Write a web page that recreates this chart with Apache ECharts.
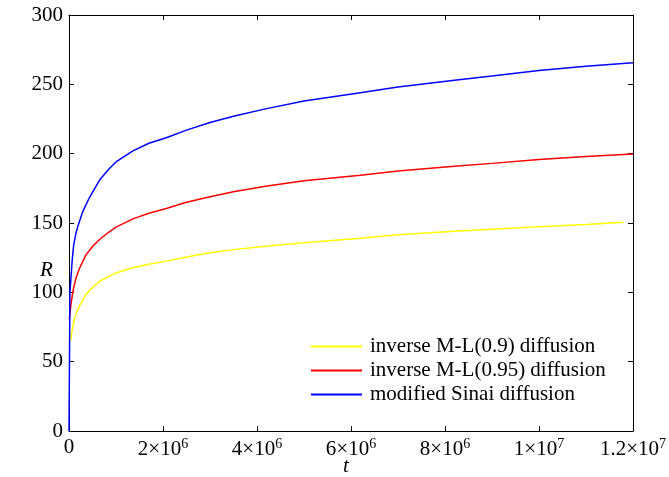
<!DOCTYPE html>
<html>
<head>
<meta charset="utf-8">
<script src="https://cdn.jsdelivr.net/npm/echarts@6/dist/echarts.min.js"></script>
<style>
  html, body { margin: 0; padding: 0; background: #fff; }
  #chart { width: 669px; height: 477px; }
</style>
</head>
<body>
<div id="chart"></div>
<script>
// Series names
var seriesNames = ['inverse M-L(0.9) diffusion', 'inverse M-L(0.95) diffusion', 'modified Sinai diffusion'];

// inverse M-L(0.9) diffusion
var yellowT = [0.03e6, 0.043e6, 0.07e6, 0.113e6, 0.16e6, 0.22e6, 0.36e6, 0.5e6, 0.65e6, 0.85e6, 1.0e6, 1.36e6, 1.7e6, 2.07e6, 2.5e6, 3.0e6, 3.5e6, 4.18e6, 5.0e6, 6.2e6, 7.0e6, 8.2e6, 9.0e6, 10.0e6, 11.0e6, 11.8e6];
var yellowR = [65, 67.5, 73.5, 80.4, 85.5, 90, 98.4, 103.5, 108, 111.5, 114, 117.7, 120.3, 122.5, 125.5, 128.5, 130.8, 133.3, 135.8, 139, 141.5, 144, 145.5, 147.3, 149, 150.6];

// inverse M-L(0.95) diffusion
var redT = [0.005e6, 0.02e6, 0.04e6, 0.09e6, 0.15e6, 0.22e6, 0.36e6, 0.5e6, 0.65e6, 0.85e6, 1.0e6, 1.36e6, 1.7e6, 2.07e6, 2.5e6, 3.0e6, 3.5e6, 4.18e6, 5.0e6, 6.2e6, 7.0e6, 8.2e6, 9.0e6, 10.0e6, 11.0e6, 12.0e6];
var redR = [81, 84, 91, 102, 110.5, 117, 127, 133, 138.1, 143.5, 147, 153, 157, 160.5, 165, 169, 172.5, 176.5, 180.5, 184.5, 187.5, 191, 193, 195.8, 198, 199.8];

// modified Sinai diffusion
var blueT = [0, 0.02e6, 0.045e6, 0.07e6, 0.1e6, 0.15e6, 0.2e6, 0.29e6, 0.43e6, 0.65e6, 0.85e6, 1.0e6, 1.36e6, 1.7e6, 2.07e6, 2.5e6, 3.0e6, 3.5e6, 4.18e6, 5.0e6, 6.2e6, 7.0e6, 8.2e6, 9.0e6, 10.0e6, 11.0e6, 12.0e6];
var blueR = [0, 100, 112, 124, 134, 143, 149, 158, 168, 181, 189, 194, 202, 207.5, 211.5, 217, 222.5, 227, 232.3, 238, 244, 248, 253, 256, 260, 263, 265.5];

// Axis ticks
var xTickMantissa = ['0', '2', '4', '6', '8', '1', '1.2'];
var xTickExponent = ['', '6', '6', '6', '6', '7', '7'];
var yTicks = [0, 50, 100, 150, 200, 250, 300];

function pairs(ts, rs) {
  return ts.map(function (t, i) { return [t, rs[i]]; });
}

var FONT = 'Liberation Serif';
var colors = ['#ffff00', '#ff0000', '#0000ff'];

var chart = echarts.init(document.getElementById('chart'), null, { renderer: 'canvas' });

var axisLineStyle = { color: '#000', width: 1 };

// box frame: ticks point inwards on all four sides
function frameAxis(base) {
  return Object.assign({
    type: 'value',
    axisLine: { show: true, onZero: false, lineStyle: axisLineStyle },
    axisTick: { show: true, inside: true, length: 5, lineStyle: axisLineStyle },
    splitLine: { show: false }
  }, base);
}

var option = {
  animation: false,
  backgroundColor: '#fff',
  grid: { left: 69, right: 36, top: 15, bottom: 46, containLabel: false },
  legend: {
    orient: 'vertical',
    left: 311,
    top: 336,
    padding: 0,
    icon: 'rect',
    itemWidth: 51,
    itemHeight: 2,
    itemGap: 3,
    textStyle: { fontFamily: FONT, fontSize: 21, color: '#000', lineHeight: 21, padding: [0, 0, 0, 3] },
    data: seriesNames
  },
  xAxis: [
    frameAxis({
      position: 'bottom',
      min: 0, max: 1.2e7, interval: 2e6,
      axisLabel: {
        margin: 6,
        color: '#000',
        formatter: function (v) {
          var i = Math.round(v / 2e6);
          if (!xTickExponent[i]) return '{m|' + xTickMantissa[i] + '}';
          return '{m|' + xTickMantissa[i] + '×10}{e|' + xTickExponent[i] + '}';
        },
        rich: {
          m: { fontFamily: FONT, fontSize: 21, color: '#000' },
          e: { fontFamily: FONT, fontSize: 14, color: '#000', padding: [0, 0, 10, 0] }
        }
      }
    }),
    frameAxis({
      position: 'top',
      min: 0, max: 1.2e7, interval: 2e6,
      axisLabel: { show: false }
    })
  ],
  yAxis: [
    frameAxis({
      position: 'left',
      min: yTicks[0], max: yTicks[yTicks.length - 1], interval: 50,
      axisLabel: { margin: 6, fontFamily: FONT, fontSize: 21, color: '#000' }
    }),
    frameAxis({
      position: 'right',
      min: yTicks[0], max: yTicks[yTicks.length - 1], interval: 50,
      axisLabel: { show: false }
    })
  ],
  graphic: [
    { type: 'text', left: 40, top: 260, style: { text: 'R', fontFamily: FONT, fontSize: 21, fontStyle: 'italic', fill: '#000' } },
    { type: 'text', left: 343, top: 456, style: { text: 't', fontFamily: FONT, fontSize: 21, fontStyle: 'italic', fill: '#000' } }
  ],
  series: [
    { name: seriesNames[0], data: pairs(yellowT, yellowR) },
    { name: seriesNames[1], data: pairs(redT, redR) },
    { name: seriesNames[2], data: pairs(blueT, blueR) }
  ].map(function (s, i) {
    return {
      name: s.name,
      type: 'line',
      xAxisIndex: 0,
      yAxisIndex: 0,
      data: s.data,
      symbol: 'none',
      smooth: false,
      color: colors[i],
      lineStyle: { color: colors[i], width: 1.5 }
    };
  })
};

chart.setOption(option);
</script>
</body>
</html>
